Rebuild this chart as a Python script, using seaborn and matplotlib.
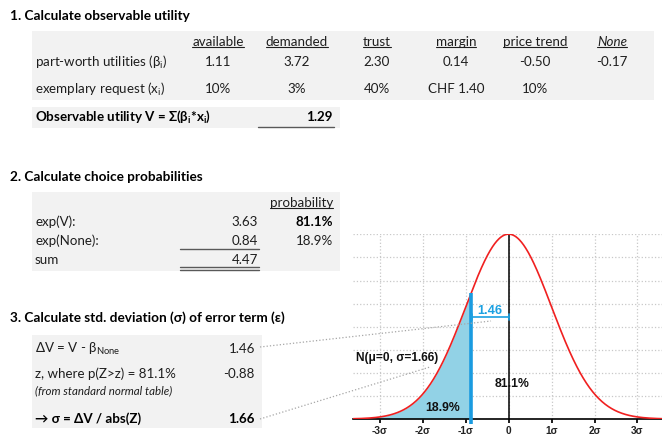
import numpy as np
import pandas as pd
import matplotlib
matplotlib.use("Agg")
import matplotlib.pyplot as plt
from matplotlib.patches import Rectangle
from matplotlib.lines import Line2D
import seaborn as sns

# ---------------- data ----------------
attributes = ["available", "demanded", "trust", "margin", "price trend", "None"]
utilities = ["1.11", "3.72", "2.30", "0.14", "-0.50", "-0.17"]
requests = ["10%", "3%", "40%", "CHF 1.40", "10%", ""]
obs_utility = "1.29"

prob_labels = ["exp(V):", "exp(None):", "sum"]
exp_values = ["3.63", "0.84", "4.47"]
probabilities = ["81.1%", "18.9%", ""]

delta_v = 1.46
z_value = -0.88
sigma = 1.66
share_right = "81.1%"
share_left = "18.9%"
sigma_ticks = [-3, -2, -1, 0, 1, 2, 3]
sigma_tick_labels = ["-3σ", "-2σ", "-1σ", "0", "1σ", "2σ", "3σ"]

# ---------------- setup ----------------
sns.set_theme(style="white")
plt.rcParams["font.family"] = ["Lato", "DejaVu Sans"]
plt.rcParams["mathtext.fontset"] = "custom"
plt.rcParams["mathtext.rm"] = "Lato"
plt.rcParams["mathtext.bf"] = "Lato:bold"
plt.rcParams["mathtext.it"] = "Lato:italic"

W, H = 662, 437
fig = plt.figure(figsize=(W / 100, H / 100), dpi=100)
fig.patch.set_facecolor("white")

TXT = "#1e1e1e"
GREY = "#f2f2f2"
BODY = 9.6
TITLE = 9.8


def fx(x):
    return x / W


def fy(y):
    return 1 - y / H


def box(x0, y0, x1, y1):
    fig.patches.append(Rectangle((fx(x0), fy(y1)), fx(x1) - fx(x0), fy(y0) - fy(y1),
                                 transform=fig.transFigure, facecolor=GREY,
                                 edgecolor="none", zorder=0))


def txt(x, y, s, ha="left", size=BODY, weight="normal", style="normal", color=TXT, **kw):
    return fig.text(fx(x), fy(y), s, ha=ha, va="center", fontsize=size,
                    fontweight=weight, fontstyle=style, color=color, **kw)


def hline(x0, x1, y, color="#595959", lw=1.0, ls="-"):
    fig.add_artist(Line2D([fx(x0), fx(x1)], [fy(y), fy(y)], transform=fig.transFigure,
                          color=color, lw=lw, ls=ls))


underlined = []

# ---------------- section 1 ----------------
txt(10, 16, "1. Calculate observable utility", size=TITLE, weight="bold", color="black")
box(32, 31, 654, 100)
col_x = [218, 297, 377, 456, 535, 612]
for cx, name, u, r in zip(col_x, attributes, utilities, requests):
    t = txt(cx, 42, name, ha="center", style="italic" if name == "None" else "normal")
    underlined.append(t)
    txt(cx, 62, u, ha="center")
    txt(cx, 89, r, ha="center")
txt(35, 62, r"part-worth utilities (β$_\mathrm{i}$)")
txt(35, 89, r"exemplary request (x$_\mathrm{i}$)")

box(32, 107, 340, 128)
txt(35, 117, r"Observable utility V = Σ(β$_\mathbf{i}$*x$_\mathbf{i}$)", weight="bold", color="black")
txt(333, 117, obs_utility, ha="right", weight="bold", color="black")
hline(258, 334, 127, lw=1.0)

# ---------------- section 2 ----------------
txt(10, 177, "2. Calculate choice probabilities", size=TITLE, weight="bold", color="black")
box(32, 192, 340, 271)
t = txt(333, 203, "probability", ha="right")
underlined.append(t)
rows_y = [222, 241, 260]
for yy, lab, ev, pr in zip(rows_y, prob_labels, exp_values, probabilities):
    txt(35, yy, lab)
    txt(258, yy, ev, ha="right")
    if pr:
        txt(333, yy, pr, ha="right", weight="bold" if pr == share_right else "normal",
            color="black" if pr == share_right else TXT)
hline(180, 259, 249)
hline(180, 259, 267)
hline(180, 259, 270)

# ---------------- section 3 ----------------
txt(10, 318, "3. Calculate std. deviation (σ) of error term (ε)", size=TITLE, weight="bold", color="black")
box(32, 335, 262, 428)
txt(35, 349, r"ΔV = V - β$_\mathrm{None}$")
txt(255, 349, f"{delta_v:.2f}", ha="right")
txt(35, 374, f"z, where p(Z>z) = {share_right}")
txt(255, 374, f"{z_value:.2f}", ha="right")
txt(35, 391, "(from standard normal table)", size=8.3, style="italic")
txt(35, 419, "→ σ = ΔV / abs(Z)", weight="bold", color="black")
txt(255, 419, f"{sigma:.2f}", ha="right", weight="bold", color="black")

# ---------------- chart ----------------
ax_l, ax_t, ax_r, ax_b = 353, 234, 662, 419
ax = fig.add_axes([fx(ax_l), fy(ax_b), fx(ax_r) - fx(ax_l), fy(ax_t) - fy(ax_b)])
xs = np.linspace(-6.1, 6.1, 600)
pdf = np.exp(-0.5 * (xs / sigma) ** 2) / (sigma * np.sqrt(2 * np.pi))
df = pd.DataFrame({"x": xs, "pdf": pdf})

ax.set_xlim(-6.02, 5.93)
ax.set_ylim(0, 0.2405)
ax.set_yticks(np.arange(0, 0.241, 0.03))
ax.set_xticks([k * sigma for k in sigma_ticks])
ax.set_xticklabels(sigma_tick_labels)
ax.grid(True, color="#c8c8c8", ls=":", lw=0.9)
ax.set_axisbelow(True)
for s in ["left", "right", "top"]:
    ax.spines[s].set_visible(False)
ax.spines["bottom"].set_color("black")
ax.spines["bottom"].set_linewidth(1.2)
ax.tick_params(axis="y", left=False, labelleft=False)
ax.tick_params(axis="x", bottom=True, length=3, color="black", pad=2)
for lab in ax.get_xticklabels():
    lab.set_fontfamily(["Liberation Sans", "DejaVu Sans"])
    lab.set_fontweight("bold")
    lab.set_fontsize(7.3)
    lab.set_color("#222222")

mask = df["x"] <= -delta_v
ax.fill_between(df["x"][mask], 0, df["pdf"][mask], color="#92d2e6", lw=0, zorder=2)
sns.lineplot(data=df, x="x", y="pdf", ax=ax, color="#f02020", lw=1.2, zorder=4)
peak = 1 / (sigma * np.sqrt(2 * np.pi))
ax.plot([0, 0], [0, peak], color="black", lw=1.1, zorder=3)
ytop = np.exp(-0.5 * (delta_v / sigma) ** 2) * peak
ax.plot([-delta_v, -delta_v], [-0.006, ytop], color="#1a9be0", lw=2.6, zorder=5,
        clip_on=False, solid_capstyle="butt")
BLUE = "#1ba1e2"
yb = 0.1325
ax.plot([-delta_v, 0], [yb, yb], color=BLUE, lw=1.2, zorder=5)
ax.plot([-delta_v + 0.04, -delta_v + 0.04], [yb - 0.004, yb + 0.004], color=BLUE, lw=1.2, zorder=5)
ax.plot([0, 0], [yb - 0.004, yb + 0.004], color=BLUE, lw=1.2, zorder=5)
fnt = ["Liberation Sans", "DejaVu Sans"]
ax.text(-0.72, 0.141, f"{delta_v:.2f}", ha="center", va="center", color=BLUE,
        fontsize=9.2, fontweight="bold", family=fnt, zorder=6)
ax.text(-4.3, 0.079, f"N(μ=0, σ={sigma:.2f})", ha="center", va="center", color="#111111",
        fontsize=8.6, fontweight="bold", family=fnt, zorder=6)
ax.text(0.15, 0.045, share_right, ha="center", va="center", color="#111111",
        fontsize=8.8, fontweight="bold", family=fnt, zorder=6)
ax.text(-2.55, 0.0145, share_left, ha="center", va="center", color="#111111",
        fontsize=8.8, fontweight="bold", family=fnt, zorder=6)
ax.set_xlabel("")
ax.set_ylabel("")
if ax.get_legend():
    ax.get_legend().remove()

# connectors
fig.add_artist(Line2D([fx(260), fx(491)], [fy(347), fy(321)], transform=fig.transFigure,
                      color="#a6a6a6", lw=0.9, ls=":", zorder=7))
fig.add_artist(Line2D([fx(260), fx(430)], [fy(419), fy(367)], transform=fig.transFigure,
                      color="#a6a6a6", lw=0.9, ls=":", zorder=7))

# underlines
fig.canvas.draw()
r = fig.canvas.get_renderer()
for t in underlined:
    bb = t.get_window_extent(r)
    yline = bb.y0 + 1.5
    fig.add_artist(Line2D([bb.x0 / W, bb.x1 / W], [yline / H, yline / H],
                          transform=fig.transFigure, color=TXT, lw=0.8))

fig.savefig("out.png", dpi=100)
